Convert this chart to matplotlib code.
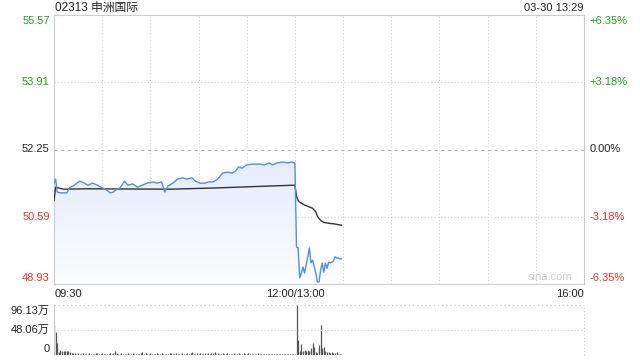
import matplotlib
matplotlib.use("Agg")
import matplotlib.pyplot as plt
import matplotlib.transforms as mtransforms
from matplotlib.colors import LinearSegmentedColormap
import numpy as np

plt.rcParams["font.family"] = ["Liberation Sans", "Noto Sans CJK SC", "DejaVu Sans"]

title = "02313 申洲国际"
stamp = "03-30 13:29"
prev_close = 52.25

# price ticks (left) and change ticks (right)
price_ticks = [55.57, 53.91, 52.25, 50.59, 48.93]
pct_ticks = ["+6.35%", "+3.18%", "0.00%", "-3.18%", "-6.35%"]
tick_colors = ["#1fa51f", "#1fa51f", "#222222", "#f0302a", "#f0302a"]

time_labels = ["09:30", "12:00/13:00", "16:00"]

# minutes since 09:30, lunch break removed (13:00 -> 150)
price_min = [0, 1, 2, 4, 8, 10, 12, 16, 19, 21, 24, 27, 29, 32, 35, 37, 39, 41,
             44, 46, 49, 52, 55, 58, 62, 64, 67, 69, 71, 74, 77, 80, 83, 86, 88,
             91, 94, 96, 99, 102, 105, 108, 111, 113, 115, 117, 120, 124, 128,
             131, 134, 136, 139, 142, 146, 148, 150,
             151, 152, 153, 154, 155, 156, 158, 159, 160, 161, 163, 164, 165,
             166, 167, 168, 169, 170, 171, 172, 173, 174, 175, 176, 177, 178, 179]
price = [51.42, 51.52, 51.20, 51.18, 51.18, 51.32, 51.35, 51.47, 51.42, 51.37,
         51.42, 51.37, 51.32, 51.27, 51.18, 51.20, 51.27, 51.30, 51.47, 51.37,
         51.40, 51.32, 51.37, 51.42, 51.45, 51.42, 51.45, 51.20, 51.35, 51.42,
         51.52, 51.55, 51.52, 51.55, 51.47, 51.42, 51.42, 51.45, 51.45, 51.52,
         51.67, 51.69, 51.67, 51.72, 51.82, 51.79, 51.87, 51.89, 51.89, 51.87,
         51.92, 51.87, 51.92, 51.94, 51.92, 51.94, 51.92,
         49.84, 49.82, 49.08, 49.20, 49.35, 49.20, 49.60, 49.82, 49.45, 49.52,
         49.20, 48.98, 48.98, 49.27, 49.45, 49.22, 49.45, 49.32, 49.47, 49.45,
         49.47, 49.50, 49.60, 49.57, 49.57, 49.55, 49.55]

avg_min = [0, 1, 3, 6, 20, 72, 100, 150, 151, 152, 153, 156, 161, 163, 164,
           166, 168, 171, 175, 179]
avg_price = [50.99, 51.32, 51.30, 51.27, 51.28, 51.27, 51.30, 51.37, 51.10,
             50.99, 50.95, 50.88, 50.80, 50.71, 50.60, 50.50, 50.45, 50.43,
             50.41, 50.38]

# volume in 万 shares, one bar per minute
vol_am = [58, 45, 24, 6, 9, 8, 8, 7, 8, 7, 5, 4, 3, 3, 2,
          3, 2, 2, 3, 2, 1.5, 2, 3, 2, 1.5, 2, 3, 4, 2, 2,
          3, 2, 2, 1.5, 2, 3, 2, 3, 7, 3, 2, 2, 3, 2, 1.5,
          2, 3, 2, 2, 3, 2, 2, 1.5, 2, 4, 6, 2, 3, 2, 2,
          3, 1.5, 2, 2, 3, 2, 2, 3, 2, 1.5, 2, 2, 3, 4, 2,
          2, 3, 2, 1.5, 2, 3, 2, 2, 4, 2, 3, 5, 2, 2, 3,
          2, 3, 2, 2, 3, 2, 3, 2, 4, 3, 5, 2, 3, 2, 2,
          3, 2, 2, 3, 2, 1.5, 2, 3, 2, 2, 3, 2, 2, 3, 2,
          2, 3, 2, 2, 1.5, 2, 2, 3, 2, 1.5, 2, 2, 1.5, 2, 2,
          1.5, 2, 2, 1.5, 2, 1.5, 2, 2, 1.5, 2, 1.5, 1.5, 2, 1.5, 2, 2]
vol_pm = [96.13, 28, 8, 21, 8, 10.5, 8.6, 9.6, 7.7, 12.8, 23.7, 16, 6.4, 4.5,
          19.2, 57.7, 12.8, 16, 8.3, 6.4, 6.4, 4.5, 5.8, 3.2, 4.5, 5.1, 2.6,
          1.9, 1.3]
vol_ticks = [0, 48.06, 96.13]
vol_labels = ["0", "48.06万", "96.13万"]

vol_min = list(range(len(vol_am))) + list(range(151, 151 + len(vol_pm)))
vol = vol_am + vol_pm

W, H = 640, 360
fig = plt.figure(figsize=(6.4, 3.6), dpi=100)


def fx(px):
    return px / W


def fy(py):
    return 1 - py / H


ax = fig.add_axes([fx(54), fy(284), fx(584) - fx(54), fy(15) - fy(284)])
vax = fig.add_axes([fx(54), fy(355), fx(584) - fx(54), fy(305) - fy(355)])

ymin, ymax = price_ticks[-1], price_ticks[0]
ax.set_xlim(0, 330)
ax.set_ylim(ymin, ymax)

# grid
for m in range(30, 330, 30):
    ax.axvline(m, color="#d2d2d2", lw=0.8, ls=(0, (1, 2)), zorder=1)
for p in [53.91, 50.59]:
    ax.axhline(p, color="#d2d2d2", lw=0.8, ls=(0, (1, 2)), zorder=1)
ax.axhline(prev_close, color="#b5b5b5", lw=0.8, ls=(0, (3, 3)), zorder=1)

# gradient fill under price
poly = ax.fill_between(price_min, price, ymin, color="none", lw=0)
grad = np.linspace(0, 1, 256).reshape(-1, 1)
cmap = LinearSegmentedColormap.from_list("f", ["#fcfdff", "#e4ecfc"])
im = ax.imshow(grad, extent=[0, 330, ymin, 52.0], origin="lower", aspect="auto",
               cmap=cmap, zorder=2)
im.set_clip_path(poly.get_paths()[0], transform=ax.transData)

ax.plot(price_min, price, color="#4d8ef2", lw=1.0, zorder=4)
ax.plot(avg_min, avg_price, color="#333333", lw=1.0, zorder=3)

for s in ax.spines.values():
    s.set_color("#cccccc")
    s.set_linewidth(0.8)
ax.set_xticks([])
ax.set_yticks([])

trans = mtransforms.blended_transform_factory(ax.transAxes, ax.transData)
for i, (p, t, c) in enumerate(zip(price_ticks, pct_ticks, tick_colors)):
    va = "center"
    off = 0
    if i == 0:
        va, off = "top", -0.03
    elif i == len(price_ticks) - 1:
        va, off = "bottom", 0.03
    ax.text(-0.008, p + off, f"{p:.2f}", color=c, fontsize=8, ha="right",
            va=va, transform=trans)
    ax.text(1.011, p + off, t, color=c, fontsize=8, ha="left", va=va,
            transform=trans)

ax.text(0.978, 0.025, "sina.com", color="#cccccc", fontsize=8, ha="right",
        va="center", transform=ax.transAxes)

fig.text(fx(55), fy(8), title, fontsize=8.5, color="#222222", ha="left", va="center")
fig.text(fx(584), fy(8), stamp, fontsize=8, color="#222222", ha="right", va="center")
fig.text(fx(55), fy(294), time_labels[0], fontsize=8, color="#222222", ha="left", va="center")
fig.text(fx(295), fy(294), time_labels[1], fontsize=8, color="#222222", ha="center", va="center")
fig.text(fx(584), fy(294), time_labels[2], fontsize=8, color="#222222", ha="right", va="center")

# volume panel
vax.set_xlim(0, 330)
vax.set_ylim(0, vol_ticks[-1])
vax.vlines(vol_min, 0, vol, color="#555555", lw=0.9)
vax.axhline(vol_ticks[1], color="#d2d2d2", lw=0.8, ls=(0, (1, 2)))
vax.axhline(vol_ticks[2], color="#d2d2d2", lw=1.0, ls=(0, (1, 2)), clip_on=False)
vax.axvline(330, color="#d2d2d2", lw=0.8, ls=(0, (1, 2)), clip_on=False)
for k in ["top", "right", "bottom"]:
    vax.spines[k].set_visible(False)
vax.spines["left"].set_color("#cccccc")
vax.spines["left"].set_linewidth(0.8)
vax.set_xticks([])
vax.set_yticks([])
vtrans = mtransforms.blended_transform_factory(vax.transAxes, vax.transData)
vax.text(-0.008, vol_ticks[0] + 2, vol_labels[0], fontsize=8, color="#222222",
         ha="right", va="bottom", transform=vtrans)
vax.text(-0.008, vol_ticks[1], vol_labels[1], fontsize=8, color="#222222",
         ha="right", va="center", transform=vtrans)
vax.text(-0.008, vol_ticks[2] - 2, vol_labels[2], fontsize=8, color="#222222",
         ha="right", va="top", transform=vtrans)

fig.savefig("out.png", dpi=100)
